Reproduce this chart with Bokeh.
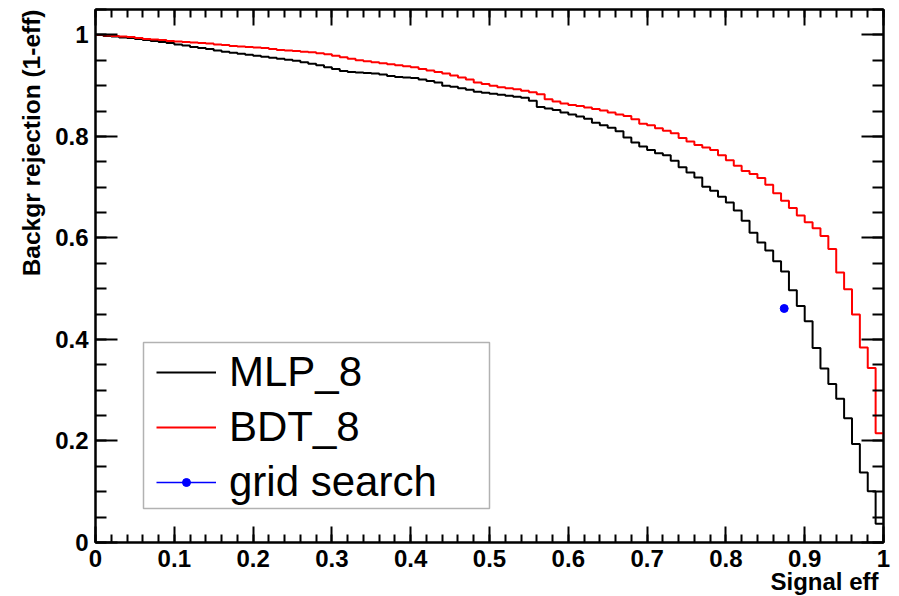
from bokeh.plotting import figure
from bokeh.models import (Range1d, LinearAxis, SingleIntervalTicker, CustomJSTickFormatter,
                          Legend, LegendItem, BoxAnnotation, Title)
from bokeh.embed import file_html
from bokeh.resources import INLINE

# ---- data: ROC histograms, 100 bins of width 0.01 in signal efficiency ----
n_bins = 100
mlp_8 = [
    1.000, 0.998, 0.997, 0.995, 0.994, 0.992, 0.990, 0.988, 0.986, 0.984,
    0.981, 0.979, 0.976, 0.974, 0.972, 0.969, 0.967, 0.965, 0.963, 0.961,
    0.959, 0.957, 0.955, 0.953, 0.951, 0.949, 0.946, 0.943, 0.940, 0.936,
    0.933, 0.929, 0.927, 0.926, 0.925, 0.924, 0.922, 0.919, 0.917, 0.916,
    0.915, 0.912, 0.909, 0.906, 0.900, 0.898, 0.895, 0.892, 0.888, 0.886,
    0.884, 0.882, 0.880, 0.878, 0.876, 0.870, 0.858, 0.855, 0.852, 0.847,
    0.843, 0.839, 0.835, 0.827, 0.822, 0.817, 0.810, 0.798, 0.788, 0.780,
    0.773, 0.767, 0.763, 0.752, 0.739, 0.729, 0.719, 0.701, 0.693, 0.681,
    0.670, 0.654, 0.634, 0.610, 0.591, 0.575, 0.554, 0.534, 0.497, 0.466,
    0.436, 0.383, 0.343, 0.312, 0.283, 0.245, 0.194, 0.138, 0.101, 0.037,
]
bdt_8 = [
    1.000, 0.999, 0.998, 0.997, 0.996, 0.994, 0.992, 0.991, 0.990, 0.988,
    0.987, 0.986, 0.985, 0.984, 0.983, 0.981, 0.980, 0.978, 0.977, 0.976,
    0.975, 0.974, 0.972, 0.970, 0.969, 0.968, 0.967, 0.966, 0.964, 0.962,
    0.959, 0.956, 0.953, 0.950, 0.948, 0.946, 0.944, 0.942, 0.940, 0.938,
    0.936, 0.933, 0.930, 0.927, 0.924, 0.920, 0.916, 0.912, 0.906, 0.903,
    0.900, 0.897, 0.895, 0.893, 0.890, 0.887, 0.883, 0.873, 0.869, 0.865,
    0.862, 0.860, 0.857, 0.854, 0.851, 0.847, 0.843, 0.840, 0.834, 0.825,
    0.822, 0.816, 0.811, 0.806, 0.797, 0.790, 0.783, 0.778, 0.773, 0.763,
    0.753, 0.742, 0.732, 0.726, 0.718, 0.705, 0.688, 0.673, 0.659, 0.644,
    0.631, 0.619, 0.604, 0.578, 0.532, 0.499, 0.449, 0.384, 0.344, 0.215,
]
grid_eff = [0.874]
grid_rej = [0.461]

x_title = "Signal eff"
y_title = "Backgr rejection (1-eff)"
labels = ["MLP_8", "BDT_8", "grid search"]

# ---- figure ----
p = figure(width=899, height=596, x_range=Range1d(0, 1), y_range=Range1d(0, 1.05),
           output_backend="svg", toolbar_location=None,
           x_axis_type=None, y_axis_type=None,
           min_border_left=95, min_border_right=16, min_border_top=9, min_border_bottom=54)
p.xgrid.visible = False
p.ygrid.visible = False
p.outline_line_color = "black"
p.outline_line_width = 2
p.background_fill_color = "white"
p.border_fill_color = "white"

fmt = CustomJSTickFormatter(code="return (Math.round(tick*10)/10).toString();")
FONT = "Liberation Sans"


def make_axis(interval, nminor, tick_len, show_labels):
    kw = dict(ticker=SingleIntervalTicker(interval=interval, num_minor_ticks=nminor),
              formatter=fmt,
              major_tick_in=tick_len, major_tick_out=0,
              minor_tick_in=tick_len // 2, minor_tick_out=0,
              major_tick_line_width=2, minor_tick_line_width=2,
              axis_line_width=2, axis_line_color="black",
              major_tick_line_color="black", minor_tick_line_color="black",
              major_label_standoff=7 if show_labels else 0)
    if show_labels:
        kw.update(major_label_text_font=FONT, major_label_text_font_style="bold",
                  major_label_text_font_size="24px", major_label_text_color="black")
    else:
        kw.update(major_label_text_font_size="0px", major_label_text_color=None)
    return LinearAxis(**kw)


p.add_layout(make_axis(0.1, 5, 16, True), "below")
p.add_layout(make_axis(0.2, 4, 22, True), "left")
p.add_layout(make_axis(0.1, 5, 16, False), "above")
p.add_layout(make_axis(0.2, 4, 22, False), "right")

# axis titles placed at the far end of each axis, as ROOT does
p.add_layout(Title(text=x_title, align="right", offset=5, standoff=-8,
                   text_font=FONT, text_font_style="bold", text_font_size="24px",
                   text_color="black"), "below")
p.add_layout(Title(text=y_title, align="right", offset=0, standoff=15,
                   text_font=FONT, text_font_style="bold", text_font_size="24.5px",
                   text_color="black"), "left")

# ---- curves ----
edges = [i / n_bins for i in range(n_bins)] + [1.0]
r_mlp = p.step(edges, mlp_8 + [mlp_8[-1]], mode="after", line_color="black", line_width=2)
r_bdt = p.step(edges, bdt_8 + [bdt_8[-1]], mode="after", line_color="#ff0000", line_width=2)
r_gl = p.line(grid_eff, grid_rej, line_color="#0000ff", line_width=1.5)
r_gp = p.scatter(grid_eff, grid_rej, marker="circle", size=8, fill_color="#0000ff",
                 line_color="#0000ff")

# ---- legend box + legend ----
box = BoxAnnotation(left=48, right=394, bottom=34, top=200,
                    left_units="screen", right_units="screen",
                    bottom_units="screen", top_units="screen",
                    fill_color="white", fill_alpha=1.0,
                    line_color="black", line_width=1.5)
p.add_layout(box)

legend = Legend(items=[LegendItem(label=labels[0], renderers=[r_mlp]),
                       LegendItem(label=labels[1], renderers=[r_bdt]),
                       LegendItem(label=labels[2], renderers=[r_gl, r_gp])],
                location=(61, 33), orientation="vertical",
                padding=1, spacing=0, margin=0,
                label_height=55, glyph_height=20, glyph_width=60, label_standoff=13,
                label_text_font=FONT, label_text_font_size="42px",
                label_text_color="black",
                border_line_color=None, background_fill_alpha=0.0)
p.add_layout(legend)

open("out.html", "w").write(file_html(p, INLINE))
